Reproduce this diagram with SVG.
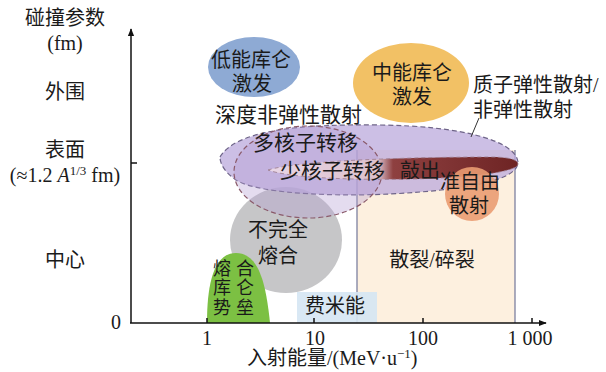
<svg xmlns="http://www.w3.org/2000/svg" width="606" height="372" viewBox="0 0 606 372">
<defs>
<style>
.t{font-family:"Liberation Serif","Noto Sans CJK SC",serif;font-size:20px;fill:#1a1a1a}
.c{text-anchor:middle}
.g{font-size:18px;letter-spacing:5px}
.ax{stroke:#111;stroke-width:1.5;fill:none}
</style>
<marker id="ah" viewBox="0 0 10 10" refX="9" refY="5" markerWidth="8" markerHeight="8" orient="auto" markerUnits="userSpaceOnUse">
<path d="M0,1 L10,5 L0,9 Z" fill="#111"/>
</marker>
<linearGradient id="kg" x1="268" y1="0" x2="518" y2="0" gradientUnits="userSpaceOnUse">
<stop offset="0" stop-color="#e8d6e6"/>
<stop offset="0.44" stop-color="#dcc0cc"/>
<stop offset="0.5" stop-color="#8e4040"/>
<stop offset="1" stop-color="#6e2424"/>
</linearGradient>
</defs>
<rect width="606" height="372" fill="#fff"/>

<g id="spallation">
<rect x="357" y="150" width="158" height="173" fill="#fdf0df"/>
<line x1="357" y1="150" x2="357" y2="323" stroke="#7d80a0" stroke-width="1.3"/>
<line x1="515" y1="150" x2="515" y2="323" stroke="#7d80a0" stroke-width="1.3"/>
<text class="t c" x="432" y="267">散裂/碎裂</text>
</g>
<g id="fermi">
<rect x="297" y="292" width="80" height="31" fill="#d5e5f3" opacity="0.9"/>
<text class="t c" x="335" y="313">费米能</text>
</g>
<g id="incomplete-fusion">
<ellipse cx="286" cy="240" rx="56" ry="53" fill="#c6c6c8"/>
<text class="t c" x="278" y="237">不完全</text>
<text class="t c" x="278" y="263">熔合</text>
</g>
<g id="fusion-barrier">
<path d="M207,323 C207,286 213,253 236,253 C259,253 266,284 270,323 Z" fill="#7cc043"/>
<text class="t g" x="213" y="275">熔合</text>
<text class="t g" x="213" y="294">库仑</text>
<text class="t g" x="213" y="314">势垒</text>
</g>
<g id="deep-inelastic">
<path d="M220,157 C236,130 300,124 380,125 C460,126 515,140 518,162 C518,180 470,188 420,192 C350,198 260,195 236,180 C226,173 220,165 220,157 Z" fill="#bba9dc" fill-opacity="0.75" stroke="#6e6488" stroke-width="1.2" stroke-dasharray="5,3"/>
</g>
<g id="multi-transfer">
<ellipse cx="308" cy="172" rx="74" ry="46" fill="#b39ad0" fill-opacity="0.35" stroke="#8a5a6a" stroke-width="1.2" stroke-dasharray="5,3"/>
</g>
<g id="knockout">
<path d="M268,170 C300,160 420,157 490,157 C510,157 518,160 518,164 C518,168 505,172 480,175 C430,181 300,182 268,170 Z" fill="url(#kg)" stroke="#9a7a8a" stroke-width="0.8" stroke-dasharray="4,3"/>
</g>
<g id="quasi-free">
<circle cx="472" cy="194" r="27" fill="#ea9c72" fill-opacity="0.9"/>
<text class="t c" x="470" y="189">准自由</text>
<text class="t c" x="469" y="213">散射</text>
</g>
<g id="labels-di">
<text class="t" x="215" y="122" style="font-size:21px">深度非弹性散射</text>
<text class="t" x="253" y="150" style="font-size:21px">多核子转移</text>
<text class="t" x="280" y="178" style="font-size:21px">少核子转移</text>
<text class="t" x="400" y="178">敲出</text>
</g>
<g id="low-coulomb">
<ellipse cx="254" cy="67" rx="46" ry="30" fill="#8eaad4"/>
<text class="t c" x="251" y="67">低能库仑</text>
<text class="t c" x="252" y="91">激发</text>
</g>
<g id="mid-coulomb">
<ellipse cx="411" cy="83" rx="58" ry="40" fill="#f2c165"/>
<text class="t c" x="412" y="80">中能库仑</text>
<text class="t c" x="412" y="104">激发</text>
</g>
<g id="proton-scattering">
<text class="t" x="473" y="92">质子弹性散射/</text>
<text class="t" x="473" y="117">非弹性散射</text>
</g>
<g id="connectors">
<line x1="479" y1="118" x2="471" y2="137" stroke="#333" stroke-width="1"/>
</g>
<g id="axes">
<line class="ax" x1="131" y1="323" x2="131" y2="29" marker-end="url(#ah)"/>
<line class="ax" x1="130" y1="323" x2="546" y2="323" marker-end="url(#ah)"/>
<line class="ax" x1="131" y1="163" x2="137" y2="163"/>
<line class="ax" x1="207" y1="323" x2="207" y2="318"/>
<line class="ax" x1="314" y1="323" x2="314" y2="318"/>
<line class="ax" x1="423" y1="323" x2="423" y2="318"/>
<line class="ax" x1="532" y1="323" x2="532" y2="318"/>
<text class="t c" x="207" y="345">1</text>
<text class="t c" x="315" y="345">10</text>
<text class="t c" x="423" y="345">100</text>
<text class="t c" x="530" y="345">1 000</text>
<text class="t" x="247" y="365">入射能量/(MeV·u<tspan dy="-7" font-size="13">−1</tspan><tspan dy="7">)</tspan></text>
<text class="t c" x="116" y="329">0</text>
<text class="t c" x="65" y="25">碰撞参数</text>
<text class="t c" x="65" y="50">(fm)</text>
<text class="t c" x="65" y="99">外围</text>
<text class="t c" x="65" y="157">表面</text>
<text class="t c" x="65" y="182">(≈1.2 <tspan font-style="italic">A</tspan><tspan dy="-7" font-size="13">1/3</tspan><tspan dy="7"> fm)</tspan></text>
<text class="t c" x="65" y="267">中心</text>
</g>
</svg>
